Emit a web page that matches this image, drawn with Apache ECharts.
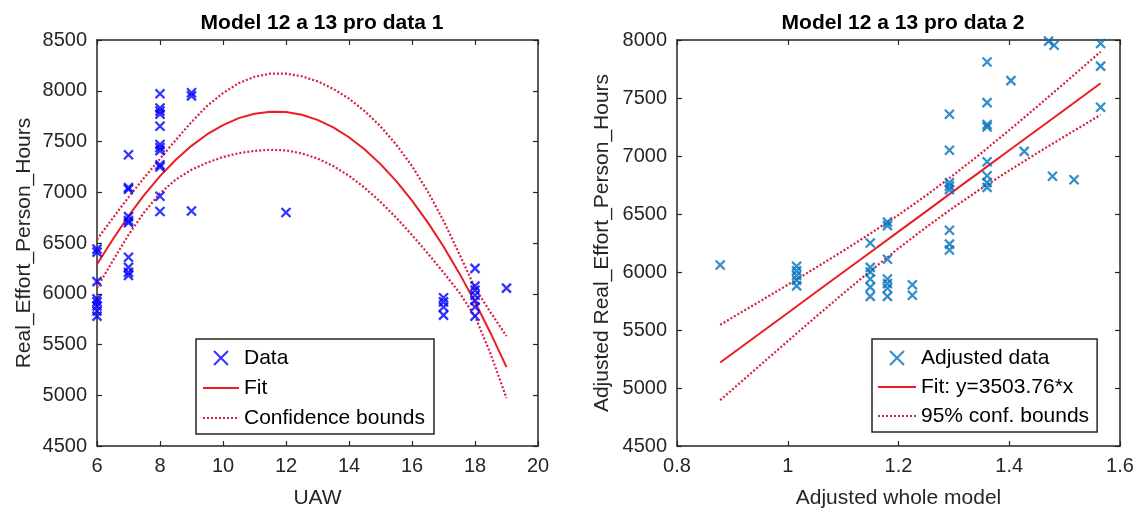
<!DOCTYPE html>
<html>
<head>
<meta charset="utf-8">
<script src="https://cdn.jsdelivr.net/npm/echarts@6/dist/echarts.min.js"></script>
<style>
html,body{margin:0;padding:0;background:#fff;}
#chart{width:1141px;height:514px;}
</style>
</head>
<body>
<div id="chart"></div>
<script>
// ---------- Panel 1 data (UAW vs Real_Effort_Person_Hours) ----------
const leftDataX = [6,6,6,6,6,6,6,6,
  7,7,7,7,7,7,7,7,7,7,
  8,8,8,8,8,8,8,8,8,8,8,8,
  9,9,9,
  12,
  17,17,17,17,
  18,18,18,18,18,18,18,
  19];
const leftDataY = [6440,6410,6120,5950,5920,5880,5830,5780,
  7370,7045,7030,6760,6720,6700,6360,6260,6210,6180,
  7970,7830,7800,7770,7650,7470,7440,7410,7270,7250,6960,6810,
  7980,7950,6815,
  6800,
  5960,5920,5870,5790,
  6250,6075,6035,5985,5935,5870,5780,
  6055];
const leftCurveX = [6,6.5,7,7.5,8,8.5,9,9.5,10,10.5,11,11.5,12,12.5,13,13.5,14,14.5,15,15.5,16,16.5,17,17.5,18,18.5,19];
const leftFit   = [6290,6534,6766,6974,7159,7320,7457,7572,7662,7730,7773,7793,7790,7763,7713,7639,7542,7421,7277,7109,6918,6703,6465,6203,5918,5609,5277];
const leftUpper = [6535,6744,6951,7144,7329,7515,7692,7852,7977,8075,8138,8168,8168,8143,8093,8019,7922,7799,7649,7469,7258,7008,6720,6393,6058,5814,5582];
const leftLower = [6060,6324,6581,6804,6989,7125,7222,7292,7347,7385,7408,7418,7412,7383,7333,7259,7162,7043,6905,6749,6578,6398,6210,6013,5778,5404,4972];
const leftXTicks = {min: 6, max: 20, step: 2};
const leftYTicks = {min: 4500, max: 8500, step: 500};

// ---------- Panel 2 data (Adjusted whole model) ----------
const rightDataX = [0.878,
  1.016,1.016,1.016,1.016,1.016,
  1.149,1.149,1.149,1.149,1.149,1.149,
  1.180,1.180,1.180,1.180,1.180,1.180,1.180,
  1.225,1.225,
  1.292,1.292,1.292,1.292,1.292,1.292,1.292,1.292,
  1.360,1.360,1.360,1.360,1.360,1.360,1.360,1.360,
  1.403,1.427,1.471,1.481,1.478,1.517,
  1.565,1.565,1.565];
const rightDataY = [6060,
  6050,6010,5970,5930,5880,
  6250,6040,6000,5940,5870,5790,
  6430,6400,6110,5940,5900,5860,5790,
  5890,5800,
  7360,7050,6770,6740,6710,6360,6240,6190,
  7810,7460,7270,7250,6950,6830,6770,6730,
  7650,7040,7990,7955,6825,6795,
  7970,7775,7420];
const rightCurveX = [0.878,0.95,1.0,1.05,1.1,1.15,1.2,1.25,1.3,1.35,1.4,1.45,1.5,1.565];
const rightFit   = [5220,5472,5647,5823,5998,6173,6348,6523,6699,6874,7049,7224,7399,7627];
const rightUpper = [5545,5748,5890,6035,6182,6334,6492,6660,6839,7027,7223,7424,7629,7899];
const rightLower = [4895,5196,5404,5611,5814,6012,6204,6386,6559,6721,6875,7024,7169,7355];
const rightXTicks = {min: 0.8, max: 1.6, step: 0.2};
const rightYTicks = {min: 4500, max: 8000, step: 500};

const titles = ['Model 12 a 13 pro data 1', 'Model 12 a 13 pro data 2'];
const xNames = ['UAW', 'Adjusted whole model'];
const yNames = ['Real_Effort_Person_Hours', 'Adjusted Real_Effort_Person_Hours'];
const legend1 = ['Data', 'Fit', 'Confidence bounds'];
const legend2 = ['Adjusted data', 'Fit: y=3503.76*x', '95% conf. bounds'];

// ---------- styling ----------
const FONT = '"Liberation Sans", Arial, Helvetica, sans-serif';
const AX = '#262626';
const RED = '#ea1c24';
const DOT = '#d6203e';
const xMark = 'path://M0,0L10,10M10,0L0,10';

function pairs(xs, ys){ return xs.map((x,i)=>[x, ys[i]]); }
function plain(v){ return String(Math.round(v*1000)/1000); }

function mkX(grid, t, name, pos){
  const main = pos === 'bottom';
  return {
    type:'value', gridIndex:grid, position:pos, min:t.min, max:t.max, interval:t.step,
    name: main ? name : '', nameLocation:'middle', nameGap:42,
    nameTextStyle:{fontFamily:FONT, fontSize:21, color:AX},
    axisLine:{show:true, onZero:false, lineStyle:{color:AX, width:1.5}},
    axisTick:{show:true, inside:true, length:5, lineStyle:{color:AX, width:1.2}},
    axisLabel:{show:main, fontFamily:FONT, fontSize:20, color:AX, margin:10, formatter:plain},
    splitLine:{show:false}
  };
}
function mkY(grid, t, name, pos, gap){
  const main = pos === 'left';
  return {
    type:'value', gridIndex:grid, position:pos, min:t.min, max:t.max, interval:t.step,
    name: main ? name : '', nameLocation:'middle', nameGap:gap,
    nameTextStyle:{fontFamily:FONT, fontSize:21, color:AX},
    axisLine:{show:true, onZero:false, lineStyle:{color:AX, width:1.5}},
    axisTick:{show:true, inside:true, length:5, lineStyle:{color:AX, width:1.2}},
    axisLabel:{show:main, fontFamily:FONT, fontSize:20, color:AX, margin:10, formatter:plain},
    splitLine:{show:false}
  };
}

function scatter(name, xs, ys, axis, color){
  return {
    type:'scatter', name, xAxisIndex:axis, yAxisIndex:axis,
    data: pairs(xs, ys), symbol:xMark, symbolSize:9,
    itemStyle:{color:color, borderColor:color, borderWidth:2.3},
    emphasis:{disabled:true}, z:5
  };
}
function line(name, xs, ys, axis, dotted){
  return {
    type:'line', name, xAxisIndex:axis, yAxisIndex:axis,
    data: pairs(xs, ys), symbol:'none', smooth:false,
    lineStyle: dotted ? {color:DOT, width:2.2, type:[2,2]} : {color:RED, width:2},
    itemStyle:{color: dotted ? DOT : RED},
    emphasis:{disabled:true}, z: dotted ? 3 : 4
  };
}

const legendBase = {
  orient:'vertical', selectedMode:false, backgroundColor:'#fff',
  borderColor:AX, borderWidth:1.5, borderRadius:0,
  itemHeight:14,
  textStyle:{fontFamily:FONT, fontSize:21, color:'#000', lineHeight:24}
};
function legendItems(names){
  return names.map((n,i)=> i === 0 ? {name:n} : {name:n, itemStyle:{opacity:0}});
}

const option = {
  animation:false,
  backgroundColor:'#fff',
  title:[
    {text:titles[0], left:317, top:8, textAlign:'center',
     textStyle:{fontFamily:FONT, fontSize:21, fontWeight:'bold', color:'#000'}},
    {text:titles[1], left:898, top:8, textAlign:'center',
     textStyle:{fontFamily:FONT, fontSize:21, fontWeight:'bold', color:'#000'}}
  ],
  grid:[
    {left:97, top:40, width:441, height:408},
    {left:677, top:40, width:443, height:408}
  ],
  xAxis:[
    mkX(0, leftXTicks, xNames[0], 'bottom'),
    mkX(0, leftXTicks, '', 'top'),
    mkX(1, rightXTicks, xNames[1], 'bottom'),
    mkX(1, rightXTicks, '', 'top')
  ],
  yAxis:[
    mkY(0, leftYTicks, yNames[0], 'left', 62),
    mkY(0, leftYTicks, '', 'right', 0),
    mkY(1, rightYTicks, yNames[1], 'left', 64),
    mkY(1, rightYTicks, '', 'right', 0)
  ],
  legend:[
    Object.assign({}, legendBase, {data:legendItems(legend1), left:196, top:339, itemWidth:36, itemGap:6, padding:[7,9,4,6]}),
    Object.assign({}, legendBase, {data:legendItems(legend2), left:872, top:339, itemWidth:38, itemGap:5, padding:[7,8,4,5]})
  ],
  series:[
    scatter(legend1[0], leftDataX, leftDataY, 0, '#0000ff'),
    line(legend1[1], leftCurveX, leftFit, 0, false),
    line(legend1[2], leftCurveX, leftUpper, 0, true),
    line(legend1[2], leftCurveX, leftLower, 0, true),
    scatter(legend2[0], rightDataX, rightDataY, 2, '#0072bd'),
    line(legend2[1], rightCurveX, rightFit, 2, false),
    line(legend2[2], rightCurveX, rightUpper, 2, true),
    line(legend2[2], rightCurveX, rightLower, 2, true)
  ]
};

const chart = echarts.init(document.getElementById('chart'), null, {renderer:'canvas'});
chart.setOption(option);
</script>
</body>
</html>
